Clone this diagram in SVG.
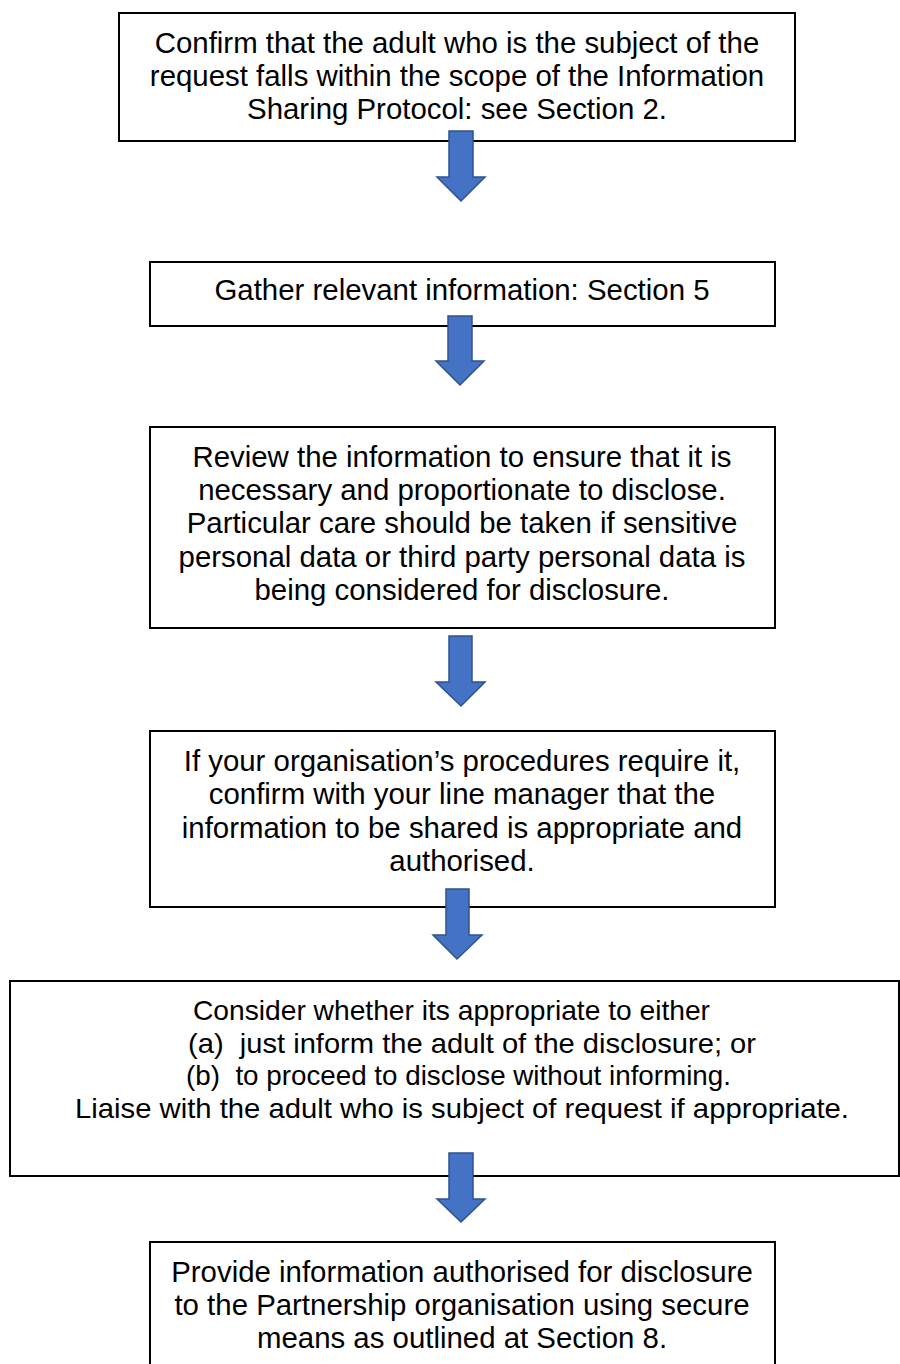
<svg xmlns="http://www.w3.org/2000/svg" width="900" height="1364" viewBox="0 0 900 1364">
<style>
.box{fill:#fff;stroke:#000;stroke-width:2}
.t{font-family:"Liberation Sans",Arial,sans-serif;font-size:29.4px;fill:#000;text-anchor:middle}
.c{font-family:"Liberation Sans",Arial,sans-serif;font-size:28px;fill:#000;text-anchor:middle}
.arr{fill:#4472C4;stroke:#2F528F;stroke-width:1.5;stroke-linejoin:miter}
</style>
<rect width="900" height="1364" fill="#fff"/>
<g id="n1">
<rect class="box" x="119" y="13" width="676" height="128"/>
<text class="t" x="457" y="53">Confirm that the adult who is the subject of the</text>
<text class="t" x="457" y="86">request falls within the scope of the Information</text>
<text class="t" x="457" y="119">Sharing Protocol: see Section 2.</text>
</g>
<g id="n2">
<rect class="box" x="150" y="262" width="625" height="64"/>
<text class="t" x="462" y="300">Gather relevant information: Section 5</text>
</g>
<g id="n3">
<rect class="box" x="150" y="427" width="625" height="201"/>
<text class="t" x="462" y="467">Review the information to ensure that it is</text>
<text class="t" x="462" y="500">necessary and proportionate to disclose.</text>
<text class="t" x="462" y="533">Particular care should be taken if sensitive</text>
<text class="t" x="462" y="567">personal data or third party personal data is</text>
<text class="t" x="462" y="600">being considered for disclosure.</text>
</g>
<g id="n4">
<rect class="box" x="150" y="731" width="625" height="176"/>
<text class="t" x="462" y="771">If your organisation’s procedures require it,</text>
<text class="t" x="462" y="804">confirm with your line manager that the</text>
<text class="t" x="462" y="838">information to be shared is appropriate and</text>
<text class="t" x="462" y="871">authorised.</text>
</g>
<g id="n5">
<rect class="box" x="10" y="981" width="889" height="195"/>
<text class="c" x="451.5" y="1020" textLength="517" lengthAdjust="spacingAndGlyphs">Consider whether its appropriate to either</text>
<text class="c" x="472" y="1053" textLength="568" lengthAdjust="spacingAndGlyphs" xml:space="preserve">(a)  just inform the adult of the disclosure; or</text>
<text class="c" x="458.5" y="1085" textLength="545" lengthAdjust="spacingAndGlyphs" xml:space="preserve">(b)  to proceed to disclose without informing.</text>
<text class="c" x="462" y="1118" textLength="774" lengthAdjust="spacingAndGlyphs">Liaise with the adult who is subject of request if appropriate.</text>
</g>
<g id="n6">
<rect class="box" x="150" y="1242" width="625" height="140"/>
<text class="t" x="462" y="1282">Provide information authorised for disclosure</text>
<text class="t" x="462" y="1315">to the Partnership organisation using secure</text>
<text class="t" x="462" y="1348">means as outlined at Section 8.</text>
</g>
<g id="connectors">
<polygon class="arr" points="449,131 473,131 473,177 485,177 461,201 437,177 449,177"/>
<polygon class="arr" points="448,316 472,316 472,361 484,361 460,385 436,361 448,361"/>
<polygon class="arr" points="449,636 472,636 472,682 485,682 461,706 436,682 449,682"/>
<polygon class="arr" points="446,889 469,889 469,935 482,935 457,959 433,935 446,935"/>
<polygon class="arr" points="449,1153 473,1153 473,1199 485,1199 461,1222 437,1199 449,1199"/>
</g>
</svg>
